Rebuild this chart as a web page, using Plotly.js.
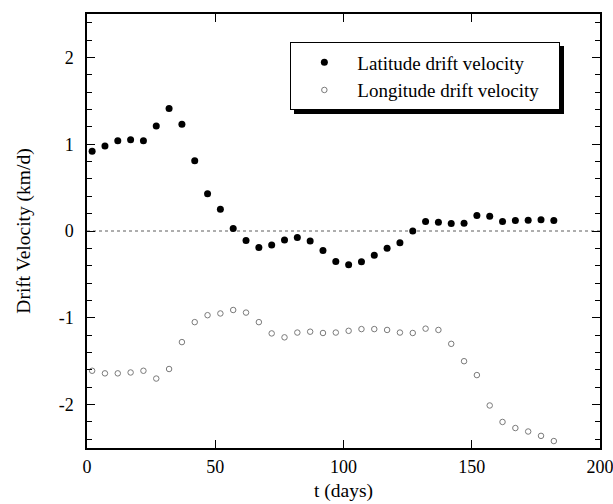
<!DOCTYPE html>
<html>
<head>
<meta charset="utf-8">
<script src="https://cdn.plot.ly/plotly-3.0.1.min.js"></script>
<style>html,body{margin:0;padding:0;background:#fff;}#chart{width:613px;height:504px;}</style>
</head>
<body>
<div id="chart"></div>
<script>
var days = [2,7,12,17,22,27,32,37,42,47,52,57,62,67,72,77,82,87,92,97,102,107,112,117,122,127,132,137,142,147,152,157,162,167,172,177,182];
var latitudeVelocity = [0.92,0.98,1.04,1.05,1.04,1.21,1.41,1.23,0.81,0.43,0.25,0.03,-0.11,-0.19,-0.16,-0.105,-0.075,-0.115,-0.225,-0.35,-0.39,-0.355,-0.28,-0.2,-0.135,0.0,0.11,0.10,0.085,0.09,0.18,0.17,0.11,0.12,0.125,0.13,0.12];
var longitudeVelocity = [-1.61,-1.64,-1.64,-1.63,-1.61,-1.70,-1.59,-1.28,-1.05,-0.97,-0.95,-0.91,-0.94,-1.05,-1.18,-1.225,-1.17,-1.16,-1.175,-1.17,-1.15,-1.13,-1.13,-1.14,-1.17,-1.175,-1.125,-1.14,-1.30,-1.50,-1.66,-2.01,-2.20,-2.27,-2.31,-2.36,-2.42];
var seriesNames = ['Latitude drift velocity','Longitude drift velocity'];
var xTickVals = [0,50,100,150,200];
var yTickVals = [-2,-1,0,1,2];

var fam = 'Liberation Serif';
var legendPad = '\u00a0\u00a0\u00a0';
var traces = [
  {x: days, y: latitudeVelocity, name: seriesNames[0] + legendPad, mode: 'markers', type: 'scatter',
   marker: {symbol: 'circle', size: 7, color: '#000'}},
  {x: days, y: longitudeVelocity, name: seriesNames[1] + legendPad, mode: 'markers', type: 'scatter',
   marker: {symbol: 'circle-open', size: 5.5, color: '#7a7a7a', line: {width: 1, color: '#7a7a7a'}}}
];
var axisCommon = {
  showgrid: false, zeroline: false, showline: true, linecolor: '#000', linewidth: 1.5,
  mirror: 'ticks', ticks: 'inside', ticklen: 8, tickwidth: 1.2, tickcolor: '#000',
  ticklabeloverflow: 'allow',
  tickfont: {family: fam, size: 18, color: '#000'}
};
var layout = {
  width: 613, height: 504,
  margin: {l: 87, r: 13, t: 13.5, b: 55.5},
  paper_bgcolor: '#fff', plot_bgcolor: '#fff',
  font: {family: fam, size: 18, color: '#000'},
  showlegend: true,
  legend: {x: 0.396, y: 0.935, xanchor: 'left', yanchor: 'top', bgcolor: '#fff',
    bordercolor: '#000', borderwidth: 1.2, font: {family: fam, size: 19, color: '#000'},
    itemwidth: 56, tracegroupgap: 0},
  xaxis: Object.assign({}, axisCommon, {range: [0, 200], tickvals: xTickVals, ticktext: xTickVals.map(String),
    ticklabelstandoff: 2,
    title: {text: 't (days)', font: {family: fam, size: 19.5, color: '#000'}, standoff: 7}}),
  yaxis: Object.assign({}, axisCommon, {range: [-2.5, 2.5], tickvals: yTickVals, ticktext: yTickVals.map(String),
    ticklabelstandoff: 8,
    minor: {dtick: 0.2, ticks: 'inside', ticklen: 5, tickwidth: 1, tickcolor: '#000'},
    title: {text: 'Drift Velocity (km/d)', font: {family: fam, size: 19.5, color: '#000'}, standoff: 23}}),
  shapes: [
    {type: 'line', xref: 'paper', x0: 0, x1: 1, yref: 'y', y0: 0, y1: 0,
     line: {color: '#333', width: 0.8, dash: 'dot'}, layer: 'below'}
  ]
};
Plotly.newPlot('chart', traces, layout, {displayModeBar: false}).then(function(gd){
  var bg = gd.querySelector('g.legend rect.bg');
  if (!bg) return;
  var shadow = bg.cloneNode(false);
  shadow.setAttribute('class', 'legend-shadow');
  shadow.setAttribute('transform', 'translate(3.5,3.5)');
  shadow.style.fill = '#000';
  shadow.style.stroke = '#000';
  shadow.style.fillOpacity = '1';
  bg.parentNode.insertBefore(shadow, bg);
});
</script>
</body>
</html>
